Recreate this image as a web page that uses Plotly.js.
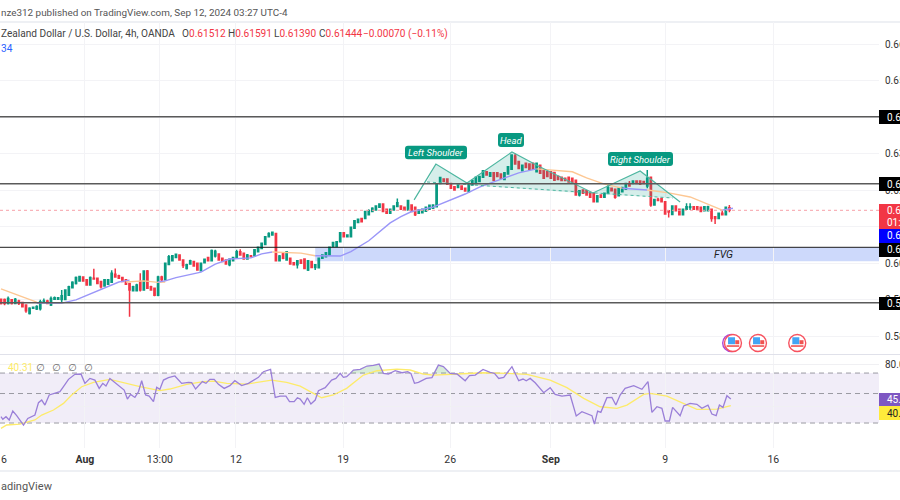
<!DOCTYPE html>
<html><head><meta charset="utf-8">
<script src="https://cdn.plot.ly/plotly-3.0.1.min.js"></script>
<style>html,body{margin:0;padding:0;background:#fff;overflow:hidden}#c{width:900px;height:500px}</style>
</head><body><div id="c"></div>
<script>
const opens=[.5901,.5900,.5889,.5899,.5889,.5896,.5892,.5885,.5862,.5876,
.5874,.5875,.5894,.5896,.5885,.5901,.5901,.5900,.5900,.5912,
.5932,.5944,.5951,.5962,.5954,.5940,.5958,.5958,.5949,.5937,
.5942,.5947,.5969,.5965,.5960,.5954,.5944,.5924,.5924,.5949,
.5926,.5978,.5935,.5931,.5912,.5962,.5954,.5996,.6006,.6015,
.6022,.6008,
.5985,.5997,.6004,.5999,.5979,.6001,.6015,.6006,.6019,.6025,
.6013,.6008,.5995,.6006,.6013,.6031,.6027,.6011,.6020,.6020,
.6031,.6040,.6051,.6072,.6077,.6081,.6006,.6027,.6008,.6013,
.6001,.5995,.6008,.6011,.5981,.6004,.5988,.5987,.6013,.6017,
.6022,.6045,.6045,.6058,.6083,.6072,.6072,.6095,.6111,.6122,
.6122,.6132,
.6141,.6145,.6153,.6162,.6147,.6136,.6145,.6155,.6156,.6153,
.6145,.6159,.6153,.6136,.6138,.6142,.6147,.6150,.6154,.6218,
.6230,.6230,.6218,.6209,.6207,.6211,.6205,.6195,.6214,.6218,
.6223,.6235,.6250,.6238,.6247,.6247,.6244,.6229,.6244,.6257,
.6293,.6278,.6253,.6273,.6271,.6273,.6250,.6268,.6255,.6250,.6250,
.6248,.6238,.6235,.6232,.6235,.6232,.6227,.6186,.6200,.6198,
.6193,.6191,.6168,.6186,.6180,.6191,.6205,.6202,.6184,.6195,
.6202,.6218,.6218,.6225,.6225,.6223,.6211,.6235,.6159,.6175,
.6177,.6168,.6143,.6133,.6156,.6147,.6132,.6147,.6152,.6154,
.6154,.6153,.6143,.6143,.6147,.6127,.6122,.6136,.6132,.61512];
const closes=[.5889,.5889,.5903,.5889,.5901,.5889,.5880,.5869,.5876,.5879,
.5881,.5894,.5896,.5889,.5903,.5905,.5905,.5910,.5926,.5935,
.5947,.5960,.5963,.5951,.5940,.5960,.5956,.5944,.5935,.5954,
.5954,.5972,.5962,.5958,.5949,.5942,.5926,.5935,.5940,.5926,
.5978,.5931,.5926,.5912,.5962,.5954,.5999,.6017,.6020,.6024,
.6008,.5993,
.5995,.6006,.5992,.5981,.5999,.6010,.6006,.6034,.6032,.6008,
.6004,.5997,.6010,.6015,.6031,.6022,.6011,.6022,.6017,.6036,
.6043,.6054,.6072,.6081,.6084,.6006,.6019,.6013,.6031,.5997,
.5995,.6006,.5999,.5985,.6006,.5988,.5995,.6013,.6022,.6028,
.6043,.6056,.6058,.6083,.6072,.6077,.6098,.6116,.6120,.6113,
.6141,.6143,
.6150,.6156,.6162,.6141,.6136,.6147,.6156,.6165,.6147,.6145,
.6171,.6141,.6132,.6145,.6147,.6153,.6158,.6159,.6216,.6234,
.6223,.6216,.6205,.6200,.6214,.6202,.6197,.6218,.6226,.6235,
.6237,.6253,.6241,.6247,.6227,.6237,.6232,.6247,.6264,.6296,
.6271,.6259,.6268,.6262,.6257,.6257,.6273,.6246,.6232,.6237,.6232,
.6227,.6229,.6226,.6226,.6222,.6220,.6186,.6198,.6191,.6186,
.6180,.6168,.6184,.6180,.6191,.6207,.6198,.6180,.6205,.6207,
.6218,.6211,.6225,.6218,.6216,.6218,.6232,.6159,.6174,.6171,
.6168,.6134,.6140,.6156,.6143,.6132,.6147,.6154,.6154,.6147,
.6147,.6141,.6154,.6154,.6122,.6122,.6136,.6132,.6153,.61444];
const highs=[.5903,.5903,.5908,.5901,.5904,.5899,.5894,.5887,.5879,.5881,
.5884,.5899,.5903,.5899,.5908,.5908,.5907,.5926,.5928,.5938,
.5950,.5963,.5965,.5964,.5956,.5963,.5984,.5960,.5951,.5956,
.5956,.5980,.5985,.5968,.5962,.5956,.5946,.5938,.5943,.5972,
.5980,.5981,.5938,.5933,.5965,.5965,.6001,.6022,.6022,.6026,
.6024,.6010,
.5998,.6009,.6006,.6001,.6001,.6012,.6017,.6037,.6036,.6027,
.6015,.6010,.6013,.6017,.6036,.6038,.6029,.6025,.6022,.6038,
.6045,.6056,.6074,.6084,.6086,.6083,.6022,.6029,.6033,.6015,
.6003,.6008,.6010,.6013,.6008,.6006,.5997,.6015,.6024,.6030,
.6045,.6058,.6060,.6085,.6085,.6079,.6100,.6118,.6122,.6124,
.6143,.6147,
.6153,.6158,.6164,.6164,.6149,.6149,.6158,.6177,.6158,.6155,
.6173,.6161,.6155,.6147,.6149,.6155,.6160,.6161,.6218,.6236,
.6232,.6232,.6220,.6211,.6216,.6213,.6207,.6220,.6228,.6237,
.6239,.6255,.6252,.6249,.6249,.6249,.6246,.6249,.6266,.6298,
.6300,.6280,.6270,.6275,.6273,.6275,.6275,.6270,.6257,.6252,.6252,
.6250,.6240,.6237,.6234,.6237,.6234,.6229,.6200,.6202,.6200,
.6195,.6193,.6186,.6188,.6193,.6216,.6207,.6204,.6207,.6209,
.6220,.6225,.6227,.6227,.6227,.6225,.6255,.6237,.6176,.6179,
.6179,.6170,.6145,.6158,.6158,.6149,.6149,.6164,.6164,.6156,
.6156,.6155,.6156,.6157,.6149,.6129,.6138,.6144,.6155,.61591];
const lows=[.5886,.5884,.5886,.5886,.5887,.5885,.5878,.5864,.5859,.5874,
.5871,.5870,.5892,.5887,.5882,.5899,.5899,.5892,.5898,.5910,
.5930,.5941,.5949,.5949,.5938,.5938,.5954,.5942,.5930,.5935,
.5940,.5945,.5960,.5956,.5947,.5940,.5853,.5922,.5922,.5922,
.5924,.5929,.5924,.5909,.5909,.5951,.5952,.5994,.6004,.6013,
.6006,.5986,
.5982,.5995,.5990,.5979,.5977,.5999,.6004,.6004,.6015,.6006,
.6002,.5995,.5991,.6004,.6011,.6020,.6009,.6009,.6015,.6018,
.6029,.6038,.6049,.6070,.6075,.6004,.6004,.6010,.6006,.5995,
.5993,.5985,.5997,.5983,.5978,.5986,.5981,.5985,.6011,.6015,
.6020,.6043,.6043,.6056,.6070,.6070,.6070,.6093,.6109,.6111,
.6120,.6130,
.6139,.6143,.6151,.6139,.6134,.6134,.6143,.6153,.6145,.6143,
.6143,.6139,.6129,.6134,.6136,.6140,.6145,.6148,.6152,.6216,
.6221,.6214,.6203,.6198,.6205,.6200,.6195,.6193,.6212,.6216,
.6221,.6233,.6239,.6236,.6226,.6235,.6230,.6227,.6242,.6255,
.6269,.6257,.6251,.6260,.6255,.6255,.6248,.6244,.6230,.6235,.6230,
.6225,.6227,.6224,.6224,.6220,.6218,.6184,.6182,.6189,.6184,
.6178,.6166,.6166,.6178,.6178,.6189,.6196,.6176,.6182,.6193,
.6200,.6209,.6216,.6216,.6214,.6216,.6205,.6154,.6157,.6169,
.6166,.6132,.6125,.6131,.6141,.6130,.6130,.6145,.6145,.6145,
.6145,.6139,.6141,.6141,.6113,.6107,.6120,.6130,.6130,.61390];
const barIndex=opens.map((_,i)=>i);

// Moving-average segments, alternating colours
const orangeA=[[0,.5929],[10,.5893]];
const blueB=[[10,.5890],[17,.5890],[21,.5899],[25,.5915],[29,.5932],[33,.5948],[36,.5953]];
const orangeC=[[35,.5948],[40,.5951],[44,.5947],[46,.5948]];
const blueD=[[44,.5948],[46,.5951],[49,.5960],[56,.5975],[60,.5997],[64,.6011],[70,.6014],[73,.6025],[76,.6030]];
const orangeE=[[76,.6030],[84,.6027],[88,.6020]];
const blueF=[[88,.6020],[95,.6019],[98,.6031],[103,.6061],[109,.6110],[112,.6127],[115,.6141],[121,.6153],[130,.6189],[134,.6208],[137,.6219],[141,.6233],[145,.6247],[150,.6258]];
const orangeG=[[150,.6258],[155,.6255],[160,.6250],[164,.6233],[169,.6216],[174,.6205]];
const blueH=[[174,.6205],[181,.6200]];
const orangeI=[[181,.6200],[187,.6192],[193,.6181],[197,.6165],[202,.6145]];
const blueJ=[[202,.6145],[205,.6150]];

// Head & shoulders drawing
const patternLine=[[115.7,.6173],[121.8,.6271],[130.5,.6219],[143.1,.6304],[151,.6263],[165.8,.6192],[179,.6252],[190.2,.6167]];
const neckline=[[119.3,.6222],[188.2,.6178]];
const fillLeft=[[119.3,.6222],[121.8,.6271],[130.5,.6219],[130.5,.6214]];
const fillHead=[[130.5,.6214],[130.5,.6219],[143.1,.6304],[151,.6263],[165.8,.6192],[165.8,.6189]];
const fillRight=[[165.8,.6189],[165.8,.6192],[179,.6252],[188.2,.6178]];

// Levels
const blackLevels=[.64008,.62173,.58912];
const thinLevel=.60430;
const fvgBand=[.6005,.6043];
const fvgStartIndex=88;
const lastPrice=.61444;
const priceTicks=[.58,.59,.60,.61,.62,.63,.64,.65,.66];

// RSI
const rsiX=[0,.5,1.4,2.3,3.3,4.4,6.3,7.5,9.5,10.5,11.4,12.3,13.5,15.1,16.5,17.5,18.9,20.7,22.4,23.5,24.9,26.3,27.5,28.5,29.4,30.5,31.9,33.3,34.5,35.4,36.3,37.5,38.5,39.4,40.5,41.5,42.7,43.6,44.5,45.5,46.9,48.7,50.6,52.5,53.4,54.5,56.4,57.4,58.5,59.7,60.9,62.5,64.1,65.5,67.4,69.3,70.7,72.1,73.5,75.5,76.8,78.2,79.8,80.8,82.1,83,83.8,84.9,85.8,86.8,88,88.9,90.8,92.6,93.8,95,95.9,96.8,
97.8,98.7,100.6,102.5,104.3,105.9,107.1,108.5,110.4,112.3,113.9,114.8,115.8,116.9,119.1,120.7,122.5,123.9,125.8,127.7,130,131.2,132.8,135,137,138.2,139.4,140.8,143.1,145,146.2,147.1,148.2,149.6,152,153.8,155.2,157.1,159.4,161.1,162.7,165.5,166.2,167.1,168,169.7,171.1,172.2,173.4,174.8,177.2,179.5,181.2,182.3,183.7,185.1,186,187.2,188.1,190.2,191.2,193,194.9,196.3,198,199.1,200.3,201.2,202.2,203.3,204.4];
const rsiY=[29.8,27.3,29.8,26.7,35.2,30.8,21.9,28.2,31.4,43.2,45.7,40.9,50.5,52.1,53.6,58.4,65.4,70.2,70.5,61.6,66.3,64.7,56.8,61.6,59,66.3,62.5,59,55.2,46.6,51.1,48.2,53.6,64.1,50.5,49.5,44.1,57.8,55.9,64.7,67,68.6,61.6,62.5,62.2,56.2,63.2,61.6,65.4,65.4,60.6,56.8,59.4,64.1,59.4,61.6,64.7,67.3,72.7,74.9,48.2,49.5,49.5,44.1,44.1,47.9,46.6,41.6,47.9,41.9,45.7,54.6,57.5,64.7,66.3,71.1,67.3,67.9,
71.1,74.3,74.9,78.1,78.7,80,71.1,70.5,73.6,71.7,72.7,71.1,61.6,62.5,66.3,67,79,77.5,71.1,70.5,64.1,68.9,69.5,74.9,72,71.1,66.3,67.3,77.5,64.1,65.7,64.1,66.3,62.2,52.7,57.5,51.1,49.5,50.5,30.5,34.6,30.8,22.8,35.2,34,47.9,48.2,40.9,50.5,56.8,59.4,55.9,63.2,34,39.3,37.8,25.7,25.7,38.7,30.8,40,42.5,41.6,37.8,40.9,32.4,30.8,40.9,38.7,49.8,46.6];
const rsiMaX=[0,1.6,5.3,9.5,11.4,14.7,17.5,19.8,22.6,25.9,30.5,34.3,38.9,44.5,47.3,52,56.7,59.5,63.2,68.8,73.5,75.8,80,83.8,87.5,89.8,93.1,96.8,
101.5,105.3,110.9,114.6,118.3,121.1,127.7,135.1,141.7,147.3,153.8,158.5,163.2,167.8,172.5,175.3,180,181.8,186.5,191.2,194.9,200.5,204.4];
const rsiMaY=[18.7,21.9,22.8,26.7,31.4,36.2,42.5,50.5,58.4,62.5,65.4,62.2,58.4,54.6,56.2,60.6,63.2,63.8,61.6,60.9,63.2,64.7,62.5,59,52.1,47.9,50.5,56.8,
69.5,73.6,75.2,74.3,70.5,69.5,70.5,71.7,71.1,70.2,64.7,57.5,47.3,39.3,37.8,40.9,51.1,52.1,49.5,42.5,36.8,37.1,40.3];
const rsiLevels=[71.4,51.9,23.8];
const obFill1=[[97.8,71.1],[98.7,74.3],[100.6,74.9],[102.5,78.1],[104.3,78.7],[105.9,80],[107.1,71.1]];
const obFill2=[[121,71.1],[122.5,79],[123.9,77.5],[125.8,71.1]];
const rsiTicks=[40,80];

// Calendar
const tickIdx=[23.5,44.5,65.8,95.8,125.8,154,186,216.3];
const tickText=['<b>Aug</b>','13:00','12','19','26','<b>Sep</b>','9','16'];
const eventIdx=[205,212,223];
const eventPrice=.5781;

const GREEN='#089981',RED='#F23645',BLUE='#9a96f8',ORANGE='#fdc793',TEAL='#4db6a0';
const FONT='Roboto, sans-serif';
const LEFT=0,RIGHT=879,TOP=22,BOT=448;
const px=x=>x/RIGHT, py=y=>(BOT-y)/(BOT-TOP);

function seg(pts,color,yaxis,width,extra){return Object.assign({type:'scatter',mode:'lines',x:pts.map(p=>p[0]),y:pts.map(p=>p[1]),yaxis:yaxis||'y',line:{color:color,width:width||1.4},hoverinfo:'skip',showlegend:false},extra||{});}
function poly(pts,color,yaxis){return seg(pts,'rgba(0,0,0,0)',yaxis,0,{fill:'toself',fillcolor:color});}

const ev=eventIdx;
const traces=[
 poly(fillLeft,'rgba(8,153,129,.17)'),poly(fillHead,'rgba(8,153,129,.17)'),poly(fillRight,'rgba(8,153,129,.17)'),
 {type:'candlestick',x:barIndex,open:opens,high:highs,low:lows,close:closes,yaxis:'y',whiskerwidth:0,
  increasing:{line:{color:GREEN,width:1.5},fillcolor:GREEN},decreasing:{line:{color:RED,width:1.5},fillcolor:RED},hoverinfo:'skip',showlegend:false},
 seg(orangeA,ORANGE),seg(blueB,BLUE),seg(orangeC,ORANGE),seg(blueD,BLUE),seg(orangeE,ORANGE),seg(blueF,BLUE),seg(orangeG,ORANGE),seg(blueH,BLUE),seg(orangeI,ORANGE),seg(blueJ,BLUE),
 seg(patternLine,TEAL,'y',1.2),
 seg(neckline,TEAL,'y',1,{line:{color:TEAL,width:1,dash:'dot'}}),
 poly(obFill1,'rgba(76,175,80,.22)','y2'),poly(obFill2,'rgba(76,175,80,.22)','y2'),
 {type:'scatter',mode:'lines',x:rsiMaX,y:rsiMaY,yaxis:'y2',line:{color:'#fdeb6a',width:1.3},hoverinfo:'skip',showlegend:false},
 {type:'scatter',mode:'lines',x:rsiX,y:rsiY,yaxis:'y2',line:{color:'#9a7fd8',width:1.3},hoverinfo:'skip',showlegend:false},
 {type:'scatter',mode:'markers',x:[ev[0]-.5],y:[eventPrice],marker:{size:17,color:'#fff',line:{color:'#ab47d8',width:1.4}},hoverinfo:'skip',showlegend:false},
 {type:'scatter',mode:'markers',x:ev,y:ev.map(()=>eventPrice),marker:{size:17,color:'#fff',line:{color:'#f7525f',width:1.4}},hoverinfo:'skip',showlegend:false},
 {type:'scatter',mode:'markers',x:ev.map(v=>v-.4),y:ev.map(()=>eventPrice+.0006),marker:{size:7,symbol:'square',color:'#42a5f5'},hoverinfo:'skip',showlegend:false},
 {type:'scatter',mode:'markers',x:ev.map(v=>v+1.2),y:ev.map(()=>eventPrice+.0002),marker:{size:4,symbol:'square',color:'#ef5350'},hoverinfo:'skip',showlegend:false},
 {type:'scatter',mode:'markers',x:ev,y:ev.map(()=>eventPrice-.00085),marker:{size:9,symbol:'line-ew',line:{color:'#ef5350',width:1.6}},hoverinfo:'skip',showlegend:false}
];

const shapes=[
 {type:'rect',layer:'below',xref:'x',yref:'y',x0:fvgStartIndex,x1:250,y0:fvgBand[0],y1:fvgBand[1],fillcolor:'#cdd9fb',line:{width:0}},
 {type:'rect',layer:'below',xref:'paper',yref:'y2',x0:0,x1:1,y0:rsiLevels[2],y1:rsiLevels[0],fillcolor:'rgba(126,87,194,.11)',line:{width:0}},
 ...rsiLevels.map(v=>({type:'line',layer:'below',xref:'paper',yref:'y2',x0:0,x1:1,y0:v,y1:v,line:{color:'#9a9aa2',width:1,dash:'5px,4px'}})),
 {type:'line',layer:'above',xref:'paper',yref:'y',x0:0,x1:1,y0:lastPrice,y1:lastPrice,line:{color:'#f7a0a8',width:1,dash:'dot'}},
 ...blackLevels.map(v=>({type:'line',layer:'above',xref:'paper',yref:'y',x0:0,x1:1,y0:v,y1:v,line:{color:'#5a5a5a',width:1.5}})),
 {type:'line',layer:'above',xref:'paper',yref:'y',x0:0,x1:1,y0:thinLevel,y1:thinLevel,line:{color:'#1c1c1c',width:1}},
 {type:'line',layer:'below',xref:'paper',yref:'paper',x0:0,x1:900/RIGHT,y0:py(22),y1:py(22),line:{color:'#eef0f4',width:2}},
 {type:'line',layer:'below',xref:'paper',yref:'paper',x0:0,x1:900/RIGHT,y0:py(354.5),y1:py(354.5),line:{color:'#e0e1ea',width:1}},
 {type:'line',layer:'below',xref:'paper',yref:'paper',x0:0,x1:900/RIGHT,y0:py(471),y1:py(471),line:{color:'#eef0f4',width:2}}
];
function box(top,bottom,color){shapes.push({type:'rect',layer:'above',xref:'paper',yref:'paper',x0:1,x1:900/RIGHT,y0:py(bottom),y1:py(top),fillcolor:color,line:{width:0}});}
box(110,124,'#000');box(177,191,'#000');box(204,229,RED);box(229,243,'#0000ff');box(243,257,'#000');box(297,310,'#000');box(393,406,'#7e57c2');box(406,420,'#ffeb3b');

const anns=[];
function txt(x,y,t,size,color,o){anns.push(Object.assign({xref:'paper',yref:'paper',x:px(x),y:py(y),text:t,showarrow:false,xanchor:'left',yanchor:'middle',font:{family:FONT,size:size,color:color},borderpad:0},o||{}));}
const NUM='#f23645',HDR=10.1;
txt(0,12,'nze312 published on TradingView.com, Sep 12, 2024 03:27 UTC-4',9.9,'#555');
txt(0,34,'Zealand Dollar / U.S. Dollar, 4h, OANDA',HDR,'#444');
txt(181,34,'O<span style="color:'+NUM+'">0.61512</span>',HDR,'#444');
txt(227,34,'H<span style="color:'+NUM+'">0.61591</span>',HDR,'#444');
txt(273,34,'L<span style="color:'+NUM+'">0.61390</span>',HDR,'#444');
txt(318,34,'C<span style="color:'+NUM+'">0.61444</span>',HDR,'#444');
txt(362,34,'−0.00070 (−0.11%)',HDR,NUM);
txt(0,48,'34',HDR,'#2962ff');
txt(0,486,'adingView',11,'#555');
txt(0,459,'6',10.5,'#333');
txt(7,367,'40.31',10,'#fdeb6a');
[40.7,56.7,72.3,88.3].forEach(x=>txt(x,367,'∅',10,'#666',{xanchor:'center',font:{family:'DejaVu Sans',size:10,color:'#666'}}));
function tag(cx,cy,t,w,h){
 const x0=cx-w/2,x1=cx+w/2,y0=cy-h/2,y1=cy+h/2,r=3;
 const X=v=>px(v).toFixed(5),Y=v=>py(v).toFixed(5);
 shapes.push({type:'path',layer:'above',xref:'paper',yref:'paper',fillcolor:GREEN,line:{width:0},
  path:`M${X(x0+r)},${Y(y0)} L${X(x1-r)},${Y(y0)} Q${X(x1)},${Y(y0)} ${X(x1)},${Y(y0+r)} L${X(x1)},${Y(y1-r)} Q${X(x1)},${Y(y1)} ${X(x1-r)},${Y(y1)} L${X(x0+r)},${Y(y1)} Q${X(x0)},${Y(y1)} ${X(x0)},${Y(y1-r)} L${X(x0)},${Y(y0+r)} Q${X(x0)},${Y(y0)} ${X(x0+r)},${Y(y0)} Z`});
 anns.push({xref:'paper',yref:'paper',x:px(cx),y:py(cy),text:'<i>'+t+'</i>',showarrow:false,xanchor:'center',yanchor:'middle',font:{family:FONT,size:9.5,color:'#fff'}});
}
tag(436,152.5,'Left Shoulder',62,13.5);tag(511,140,'Head',26,14);tag(640.5,159,'Right Shoulder',65,14);
txt(723,254,'<i>FVG</i>',10.5,'#222',{xanchor:'center'});
const LBL=10;
txt(886,117,'0.64008',LBL,'#fff');txt(886,184,'0.62173',LBL,'#fff');
txt(886,210.5,'0.61444',LBL,'#fff');txt(886,222,'01:33',LBL,'#fff');
txt(886,236,'0.61500',LBL,'#fff');txt(886,250,'0.60430',LBL,'#fff');txt(886,303,'0.58912',LBL,'#fff');
txt(886,399.5,'45.31',LBL,'#fff');txt(886,413,'40.31',LBL,'#222');

const layout={width:900,height:500,paper_bgcolor:'#fff',plot_bgcolor:'#fff',showlegend:false,
 margin:{l:LEFT,r:900-RIGHT,t:TOP,b:500-BOT,pad:0},boxgap:.5,dragmode:false,hovermode:false,
 xaxis:{anchor:'y2',range:[-.28,245.9],tickmode:'array',tickvals:tickIdx,ticktext:tickText,showgrid:true,gridcolor:'#f3f3f6',gridwidth:1,zeroline:false,showline:false,ticklen:0,ticklabelstandoff:3,tickangle:0,
   tickfont:{family:FONT,size:10.5,color:'#333'},rangeslider:{visible:false}},
 yaxis:{domain:[1-(354-TOP)/(BOT-TOP),1],range:[.57507,.66603],side:'right',tickmode:'array',tickvals:priceTicks,tickformat:'.5f',showgrid:true,gridcolor:'#f3f3f6',gridwidth:1,zeroline:false,showline:false,ticklen:0,ticklabelstandoff:5,tickfont:{family:FONT,size:LBL,color:'#333'},anchor:'x'},
 yaxis2:{domain:[0,(BOT-355)/(BOT-TOP)],range:[0,88.6],side:'right',tickmode:'array',tickvals:rsiTicks,tickformat:'.2f',showgrid:true,gridcolor:'#f0f0f3',gridwidth:1,zeroline:false,showline:false,ticklen:0,ticklabelstandoff:5,tickfont:{family:FONT,size:LBL,color:'#333'},anchor:'x'},
 shapes:shapes,annotations:anns};
Plotly.newPlot('c',traces,layout,{displayModeBar:false,staticPlot:true});
</script></body></html>
